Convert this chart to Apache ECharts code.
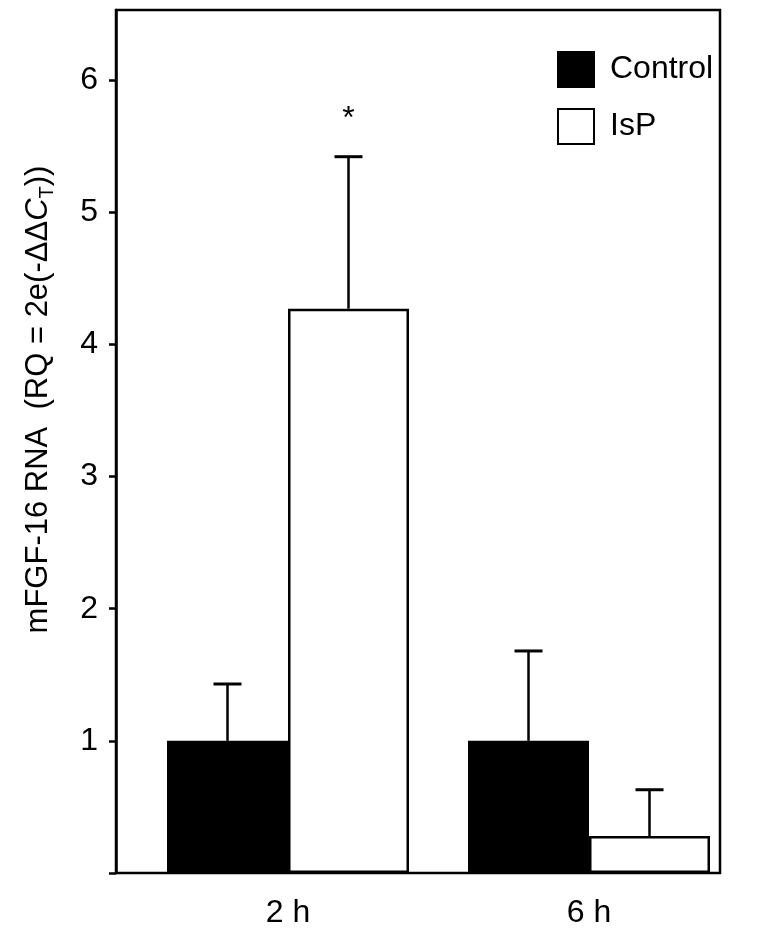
<!DOCTYPE html>
<html>
<head>
<meta charset="utf-8">
<script src="https://cdn.jsdelivr.net/npm/echarts@6/dist/echarts.min.js"></script>
<style>
html,body{margin:0;padding:0;background:#fff;}
#chart{width:776px;height:935px;}
</style>
</head>
<body>
<div id="chart"></div>
<script>
// ---- data ----
var categories = ['2 h', '6 h'];
var seriesNames = ['Control', 'IsP'];
var controlMean = [1.0, 1.0];
var controlUpper = [1.43, 1.68];
var ispMean = [4.27, 0.28];
var ispUpper = [5.42, 0.63];
var significance = ['*', ''];
var yTickValues = [1, 2, 3, 4, 5, 6];

var FONT = 'Liberation Sans, Arial, Helvetica, sans-serif';
var BAR_W = 121;

function errorData(means, uppers, marks) {
  return means.map(function (m, i) { return [i, m, uppers[i], marks ? marks[i] : '']; });
}

function errRenderer(offset) {
  return function (params, api) {
    var x = api.value(0);
    var base = api.coord([x, api.value(1)]);
    var top = api.coord([x, api.value(2)]);
    var cx = base[0] + offset;
    var half = 14;
    var children = [
      { type: 'line', shape: { x1: cx, y1: base[1], x2: cx, y2: top[1] }, style: { stroke: '#000', lineWidth: 2.5 } },
      { type: 'line', shape: { x1: cx - half, y1: top[1], x2: cx + half, y2: top[1] }, style: { stroke: '#000', lineWidth: 3 } }
    ];
    var mark = api.value(3);
    if (mark) {
      children.push({ type: 'text', style: { text: mark, x: cx, y: top[1] - 38, textAlign: 'center', textVerticalAlign: 'middle', font: '32px ' + FONT, fill: '#000' } });
    }
    return { type: 'group', children: children };
  };
}

var chart = echarts.init(document.getElementById('chart'), null, { renderer: 'canvas' });
var option = {
  animation: false,
  backgroundColor: '#fff',
  grid: [
    { left: 116, right: 56, top: 10, bottom: 62, show: true, borderColor: '#000', borderWidth: 2.5, backgroundColor: 'transparent' },
    { left: 137.5, width: 602, top: 10, bottom: 62 }
  ],
  legend: {
    orient: 'vertical', left: 557, top: 51, itemWidth: 36, itemHeight: 35, itemGap: 20, padding: 0,
    icon: 'rect',
    data: seriesNames,
    textStyle: { fontFamily: FONT, fontSize: 32, color: '#000', padding: [0, 0, 0, 11] }
  },
  xAxis: [
    { gridIndex: 0, type: 'value', show: false, min: 0, max: 1 },
    { gridIndex: 1, type: 'category', data: categories,
      axisLine: { show: false }, axisTick: { show: false },
      axisLabel: { fontFamily: FONT, fontSize: 32, color: '#000', margin: 24 } }
  ],
  yAxis: [
    { gridIndex: 0, type: 'value', min: 0, max: 6.53, interval: 1,
      axisLine: { show: true, lineStyle: { color: '#000', width: 2.5 } },
      axisTick: { show: true, length: 7, lineStyle: { color: '#000', width: 2.5 } },
      splitLine: { show: false },
      axisLabel: { fontFamily: FONT, fontSize: 32, color: '#000', margin: 18, showMaxLabel: false,
        formatter: function (v) { return yTickValues.indexOf(v) >= 0 ? String(v) : ''; } },
      name: '{n|mFGF-16 RNA  (RQ = 2e(-ΔΔ}{i|C}{s|T}{n|))}',
      nameLocation: 'middle', nameGap: 60,
      nameTextStyle: { fontFamily: FONT, fontSize: 31, color: '#000', padding: [0, 0, 0, 84],
        rich: {
          n: { fontFamily: FONT, fontSize: 31, color: '#000', lineHeight: 36 },
          i: { fontFamily: FONT, fontSize: 31, color: '#000', fontStyle: 'italic', lineHeight: 36 },
          s: { fontFamily: FONT, fontSize: 20, color: '#000', lineHeight: 36, padding: [18, 0, 0, 0] }
        } }
    },
    { gridIndex: 1, type: 'value', min: 0, max: 6.53, interval: 1, show: false }
  ],
  series: [
    { name: 'Control', type: 'bar', xAxisIndex: 1, yAxisIndex: 1, data: controlMean, barWidth: BAR_W, barGap: '0%',
      itemStyle: { color: '#000', borderColor: '#000', borderWidth: 2 } },
    { name: 'IsP', type: 'bar', xAxisIndex: 1, yAxisIndex: 1, data: ispMean, barWidth: BAR_W, barGap: '0%',
      itemStyle: { color: '#fff', borderColor: '#000', borderWidth: 2.5 } },
    { type: 'custom', xAxisIndex: 1, yAxisIndex: 1, data: errorData(controlMean, controlUpper),
      renderItem: errRenderer(-BAR_W / 2), z: 5, silent: true },
    { type: 'custom', xAxisIndex: 1, yAxisIndex: 1, data: errorData(ispMean, ispUpper, significance),
      renderItem: errRenderer(BAR_W / 2), z: 5, silent: true }
  ]
};
chart.setOption(option);
</script>
</body>
</html>
